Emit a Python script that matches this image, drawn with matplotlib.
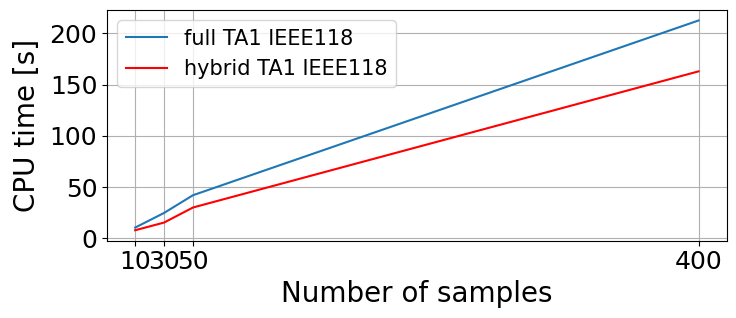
import matplotlib
matplotlib.use('Agg')
import matplotlib.pyplot as plt

# данные
n_samples = [10, 30, 50, 400]
full_ta1 = [10.4, 24.7, 42.0, 212.7]
hybrid_ta1 = [7.8, 15.3, 30.0, 163.0]
y_ticks = [0, 50, 100, 150, 200]

fig = plt.figure(figsize=(7.36, 3.18), dpi=100)
ax = fig.add_axes([0.1454, 0.243, 0.842, 0.7256])

ax.plot(n_samples, full_ta1, label='full TA1 IEEE118')
ax.plot(n_samples, hybrid_ta1, color='red', label='hybrid TA1 IEEE118')

ax.set_xticks(n_samples)
ax.set_yticks(y_ticks)
ax.tick_params(labelsize=18)
ax.set_xlabel('Number of samples', fontsize=20)
ax.set_ylabel('CPU time [s]', fontsize=20, labelpad=6)
ax.grid(True)
ax.legend(fontsize=15, loc='upper left')

fig.savefig('out.png', dpi=100)
